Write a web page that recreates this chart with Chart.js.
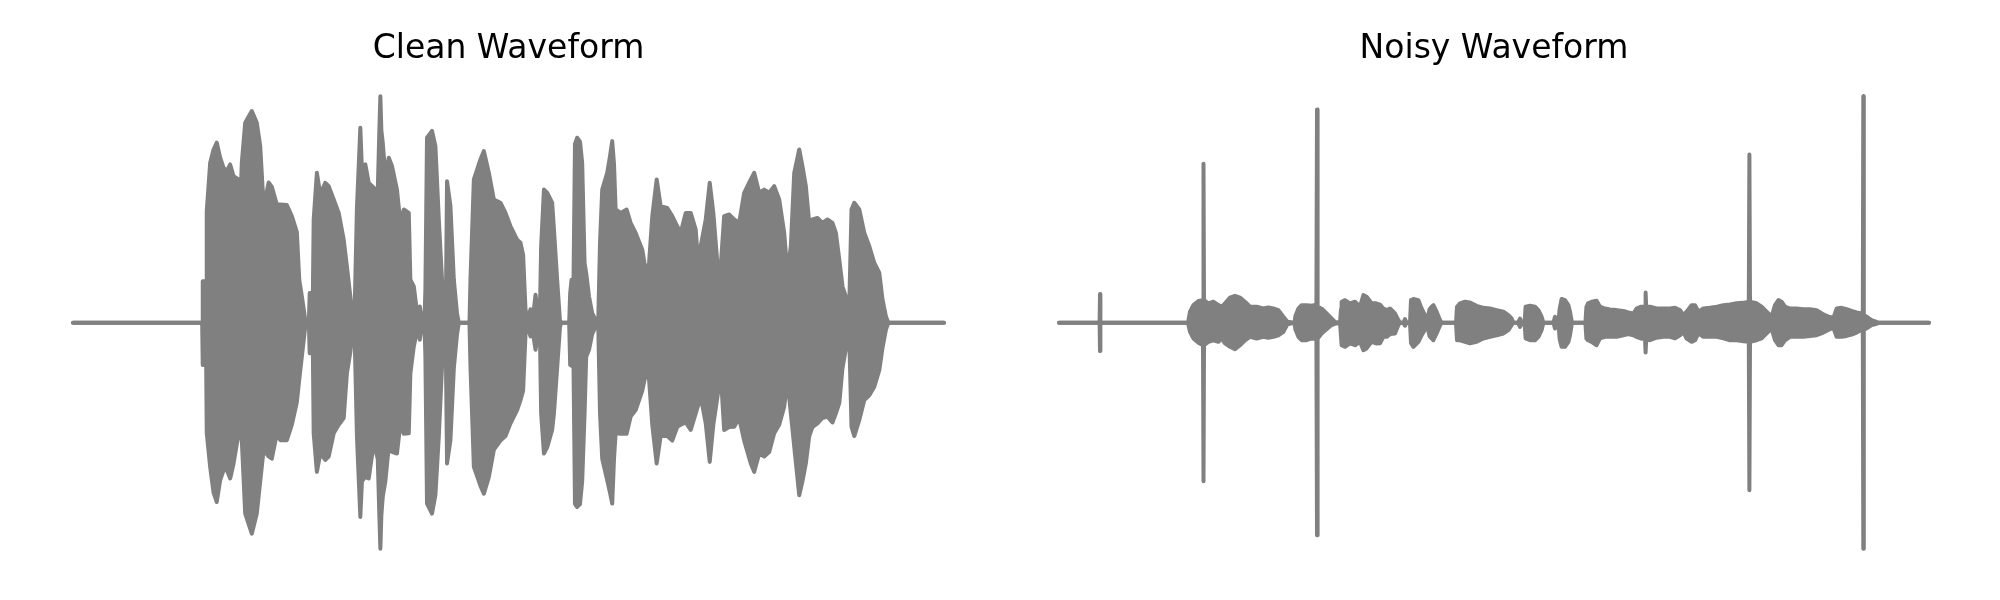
<!DOCTYPE html>
<html>
<head>
<meta charset="utf-8">
<script src="https://cdn.jsdelivr.net/npm/chart.js@4.4.1/dist/chart.umd.min.js"></script>
<style>
  body { margin: 0; background: #fff; }
  .row { display: flex; width: 2000px; height: 600px; }
  canvas { display: block; }
</style>
</head>
<body>
<div class="row">
  <canvas id="clean" width="1000" height="600"></canvas>
  <canvas id="noisy" width="1000" height="600"></canvas>
</div>
<script>
// envelope of each waveform: time (s), upper and lower amplitude
const cleanTime = [
  0, 0.645, 0.648, 0.665, 0.668, 0.685, 0.702, 0.718, 0.735, 0.752, 0.768, 0.785, 0.802, 0.827, 0.835,
  0.843, 0.860, 0.893, 0.918, 0.935, 0.952, 0.977, 0.993, 1.018, 1.035, 1.068, 1.093, 1.118, 1.130, 1.143,
  1.160, 1.165, 1.178, 1.182, 1.198, 1.202, 1.218, 1.235, 1.260, 1.277, 1.302, 1.327, 1.352, 1.368, 1.385,
  1.398, 1.405, 1.410, 1.418, 1.435, 1.443, 1.460, 1.477, 1.502, 1.522, 1.530, 1.535, 1.540, 1.547, 1.560,
  1.577, 1.593, 1.618, 1.635, 1.652, 1.677, 1.685, 1.702, 1.722, 1.732, 1.743, 1.755, 1.760, 1.768, 1.793,
  1.810, 1.827, 1.843, 1.852, 1.863, 1.868, 1.885, 1.902, 1.918, 1.927, 1.980, 1.985, 2.002, 2.035, 2.052,
  2.077, 2.102, 2.135, 2.160, 2.185, 2.218, 2.235, 2.248, 2.260, 2.268, 2.285, 2.298, 2.310, 2.322, 2.332,
  2.338, 2.352, 2.368, 2.393, 2.402, 2.418, 2.432, 2.438, 2.478, 2.483, 2.490, 2.498, 2.507, 2.518, 2.532,
  2.543, 2.555, 2.563, 2.577, 2.593, 2.610, 2.623, 2.632, 2.643, 2.668, 2.682, 2.693, 2.702, 2.710, 2.735,
  2.765, 2.785, 2.810, 2.843, 2.865, 2.877, 2.893, 2.915, 2.935, 2.968, 2.993, 3.018, 3.035, 3.060, 3.085,
  3.110, 3.127, 3.135, 3.160, 3.180, 3.198, 3.218, 3.235, 3.252, 3.277, 3.302, 3.327, 3.352, 3.385, 3.402,
  3.427, 3.452, 3.477, 3.502, 3.527, 3.552, 3.568, 3.585, 3.602, 3.627, 3.643, 3.660, 3.677, 3.693, 3.718,
  3.743, 3.768, 3.793, 3.810, 3.827, 3.843, 3.865, 3.877, 3.888, 3.902, 3.927, 3.952, 3.977, 4.002, 4.027,
  4.043, 4.060, 4.072, 4.350
];
const cleanUpper = [
  0, 0, 0.183, 0.183, 0.493, 0.706, 0.765, 0.795, 0.729, 0.684, 0.670, 0.699, 0.647, 0.633, 0.500,
  0.706, 0.883, 0.935, 0.883, 0.780, 0.515, 0.619, 0.600, 0.522, 0.522, 0.520, 0.471, 0.400, 0.190, 0.117,
  0.013, 0, 0, 0.131, 0.131, 0.456, 0.662, 0.566, 0.618, 0.603, 0.544, 0.485, 0.367, 0.249, 0.117,
  0.013, 0, 0.190, 0.507, 0.861, 0.677, 0.699, 0.618, 0.596, 0.580, 0.850, 1.000, 0.850, 0.795, 0.647,
  0.729, 0.692, 0.588, 0.441, 0.500, 0.485, 0.190, 0.161, 0.020, 0.072, 0.010, 0, 0.150, 0.817, 0.847,
  0.780, 0.456, 0.190, 0.130, 0.150, 0.625, 0.515, 0.190, 0.040, 0, 0, 0.190, 0.633, 0.721, 0.758,
  0.662, 0.544, 0.530, 0.485, 0.426, 0.367, 0.353, 0.300, 0.058, 0.010, 0.060, 0.030, 0.124, 0.040, 0.050,
  0.338, 0.588, 0.574, 0.530, 0.412, 0.190, 0.010, 0, 0, 0.131, 0.190, 0.043, 0.790, 0.817, 0.800,
  0.706, 0.264, 0.220, 0.117, 0.043, 0.013, 0, 0.353, 0.588, 0.662, 0.736, 0.802, 0.700, 0.500, 0.485,
  0.500, 0.441, 0.397, 0.323, 0.205, 0.264, 0.470, 0.633, 0.515, 0.507, 0.471, 0.426, 0.397, 0.485, 0.485,
  0.412, 0.205, 0.338, 0.456, 0.618, 0.485, 0.264, 0.249, 0.471, 0.478, 0.456, 0.441, 0.574, 0.633, 0.662,
  0.574, 0.588, 0.574, 0.603, 0.544, 0.397, 0.220, 0.338, 0.662, 0.765, 0.692, 0.603, 0.441, 0.456, 0.463,
  0.441, 0.456, 0.441, 0.397, 0.279, 0.161, 0.102, 0.080, 0.500, 0.530, 0.500, 0.397, 0.338, 0.264, 0.220,
  0.102, 0.028, 0, 0
];
const cleanLower = [
  0, 0, -0.186, -0.186, -0.488, -0.636, -0.750, -0.791, -0.695, -0.650, -0.650, -0.687, -0.621, -0.488, -0.500,
  -0.518, -0.842, -0.931, -0.842, -0.700, -0.560, -0.590, -0.600, -0.490, -0.518, -0.518, -0.450, -0.350, -0.250, -0.149,
  -0.016, 0, 0, -0.134, -0.134, -0.488, -0.658, -0.577, -0.605, -0.590, -0.488, -0.450, -0.420, -0.223, -0.130,
  -0.016, 0, -0.190, -0.500, -0.857, -0.700, -0.680, -0.687, -0.532, -0.600, -0.850, -0.997, -0.850, -0.768, -0.700,
  -0.547, -0.570, -0.577, -0.444, -0.490, -0.488, -0.223, -0.105, -0.020, -0.075, -0.010, 0, -0.150, -0.798, -0.842,
  -0.760, -0.500, -0.193, -0.160, -0.200, -0.621, -0.518, -0.200, -0.050, 0, 0, -0.190, -0.636, -0.720, -0.754,
  -0.680, -0.560, -0.520, -0.500, -0.444, -0.385, -0.341, -0.300, -0.050, -0.010, -0.060, -0.050, -0.119, -0.040, -0.050,
  -0.400, -0.577, -0.550, -0.473, -0.400, -0.200, -0.020, 0, 0, -0.186, -0.190, -0.050, -0.800, -0.813, -0.800,
  -0.700, -0.400, -0.150, -0.119, -0.050, -0.016, 0, -0.400, -0.600, -0.695, -0.750, -0.798, -0.600, -0.488, -0.490,
  -0.490, -0.414, -0.385, -0.300, -0.208, -0.250, -0.450, -0.621, -0.500, -0.500, -0.520, -0.459, -0.450, -0.440, -0.473,
  -0.400, -0.350, -0.326, -0.444, -0.614, -0.450, -0.330, -0.223, -0.473, -0.460, -0.459, -0.420, -0.520, -0.621, -0.658,
  -0.577, -0.590, -0.570, -0.488, -0.450, -0.370, -0.252, -0.400, -0.547, -0.761, -0.700, -0.621, -0.500, -0.460, -0.444,
  -0.420, -0.414, -0.440, -0.400, -0.355, -0.200, -0.090, -0.070, -0.459, -0.500, -0.429, -0.341, -0.320, -0.282, -0.208,
  -0.110, -0.030, 0, 0
];

const noisyTime = [
  0, 0.203, 0.205, 0.207, 0.645, 0.655, 0.672, 0.697, 0.720, 0.7225, 0.725, 0.747, 0.772, 0.797, 0.813,
  0.830, 0.855, 0.880, 0.905, 0.930, 0.955, 0.988, 1.022, 1.047, 1.072, 1.097, 1.122, 1.142, 1.178, 1.182,
  1.197, 1.213, 1.238, 1.263, 1.287, 1.290, 1.293, 1.313, 1.338, 1.363, 1.380, 1.405, 1.410, 1.413, 1.430,
  1.455, 1.480, 1.505, 1.522, 1.538, 1.563, 1.585, 1.605, 1.622, 1.638, 1.655, 1.680, 1.697, 1.705, 1.722,
  1.730, 1.738, 1.755, 1.760, 1.772, 1.797, 1.813, 1.830, 1.843, 1.853, 1.863, 1.872, 1.888, 1.905, 1.913,
  1.985, 1.990, 2.005, 2.030, 2.055, 2.088, 2.122, 2.155, 2.188, 2.222, 2.247, 2.263, 2.272, 2.295, 2.305,
  2.315, 2.328, 2.333, 2.355, 2.380, 2.397, 2.413, 2.422, 2.472, 2.480, 2.488, 2.497, 2.503, 2.513, 2.530,
  2.547, 2.555, 2.565, 2.632, 2.637, 2.645, 2.663, 2.688, 2.705, 2.730, 2.755, 2.788, 2.822, 2.847, 2.872,
  2.888, 2.908, 2.930, 2.933, 2.936, 2.955, 2.988, 3.022, 3.055, 3.080, 3.105, 3.122, 3.138, 3.163, 3.180,
  3.197, 3.222, 3.255, 3.290, 3.322, 3.355, 3.388, 3.422, 3.449, 3.452, 3.455, 3.488, 3.513, 3.538, 3.563,
  3.580, 3.597, 3.613, 3.630, 3.655, 3.688, 3.722, 3.755, 3.788, 3.822, 3.847, 3.872, 3.888, 3.913, 3.938,
  3.963, 3.988, 4.013, 4.019, 4.0215, 4.024, 4.038, 4.063, 4.088, 4.100, 4.350
];
const noisyUpper = [
  0, 0, 0.127, 0, 0, 0.049, 0.078, 0.096, 0.100, 0.702, 0.100, 0.086, 0.093, 0.078, 0.071,
  0.086, 0.111, 0.119, 0.111, 0.093, 0.071, 0.071, 0.063, 0.068, 0.063, 0.056, 0.027, 0.005, 0, 0.030,
  0.063, 0.078, 0.078, 0.075, 0.080, 0.942, 0.070, 0.063, 0.041, 0.019, 0.004, 0, 0.060, 0.093, 0.100,
  0.086, 0.093, 0.071, 0.122, 0.115, 0.086, 0.086, 0.080, 0.063, 0.056, 0.063, 0.041, 0.012, 0, 0,
  0.016, 0, 0, 0.100, 0.105, 0.100, 0.063, 0.034, 0.020, 0.060, 0.071, 0.078, 0.049, 0.012, 0,
  0, 0.071, 0.086, 0.093, 0.090, 0.075, 0.066, 0.063, 0.056, 0.049, 0.034, 0.019, 0, 0, 0.019,
  0, 0, 0.071, 0.075, 0.071, 0.056, 0.027, 0, 0, 0.027, 0, 0, 0.060, 0.105, 0.100,
  0.078, 0.049, 0, 0, 0.070, 0.086, 0.093, 0.097, 0.071, 0.063, 0.059, 0.056, 0.052, 0.046, 0.041,
  0.063, 0.071, 0.071, 0.134, 0.071, 0.071, 0.063, 0.063, 0.063, 0.066, 0.056, 0.034, 0.049, 0.078, 0.078,
  0.049, 0.063, 0.066, 0.071, 0.078, 0.081, 0.086, 0.088, 0.093, 0.743, 0.093, 0.086, 0.071, 0.049, 0.027,
  0.078, 0.100, 0.093, 0.071, 0.063, 0.063, 0.060, 0.060, 0.056, 0.037, 0.027, 0.022, 0.063, 0.066, 0.060,
  0.053, 0.046, 0.041, 0.040, 1.000, 0.035, 0.027, 0.012, 0.004, 0, 0
];
const noisyLower = [
  0, 0, -0.125, 0, 0, -0.040, -0.069, -0.088, -0.099, -0.699, -0.099, -0.084, -0.077, -0.084, -0.069,
  -0.091, -0.106, -0.117, -0.099, -0.077, -0.062, -0.069, -0.062, -0.066, -0.062, -0.055, -0.040, -0.007, 0, -0.030,
  -0.062, -0.077, -0.077, -0.069, -0.070, -0.938, -0.070, -0.047, -0.028, -0.010, -0.004, 0, -0.060, -0.099, -0.106,
  -0.091, -0.099, -0.084, -0.121, -0.113, -0.084, -0.091, -0.090, -0.062, -0.062, -0.050, -0.047, -0.010, 0, 0,
  -0.013, 0, 0, -0.090, -0.106, -0.084, -0.055, -0.030, -0.020, -0.060, -0.069, -0.077, -0.047, -0.012, 0,
  0, -0.077, -0.077, -0.084, -0.091, -0.084, -0.069, -0.062, -0.055, -0.047, -0.032, -0.010, 0, 0, -0.018,
  0, 0, -0.069, -0.077, -0.077, -0.062, -0.032, 0, 0, -0.025, 0, 0, -0.070, -0.106, -0.106,
  -0.084, -0.055, 0, 0, -0.070, -0.077, -0.084, -0.099, -0.069, -0.062, -0.062, -0.062, -0.055, -0.050, -0.055,
  -0.062, -0.069, -0.072, -0.131, -0.072, -0.077, -0.066, -0.062, -0.062, -0.069, -0.055, -0.040, -0.070, -0.084, -0.077,
  -0.047, -0.062, -0.062, -0.062, -0.069, -0.077, -0.077, -0.081, -0.084, -0.739, -0.084, -0.077, -0.069, -0.047, -0.025,
  -0.077, -0.099, -0.099, -0.077, -0.062, -0.062, -0.062, -0.058, -0.055, -0.043, -0.032, -0.022, -0.062, -0.062, -0.058,
  -0.052, -0.043, -0.032, -0.030, -0.997, -0.030, -0.025, -0.010, -0.004, 0, 0
];

const lineGrey = '#808080';

function toPoints(times, values) {
  return times.map((t, i) => ({ x: t, y: values[i] }));
}

function waveChart(id, title, times, upper, lower, pad) {
  return new Chart(document.getElementById(id), {
    type: 'line',
    data: {
      datasets: [
        {
          data: toPoints(times, upper),
          borderColor: lineGrey,
          backgroundColor: lineGrey,
          borderWidth: 4,
          fill: '+1',
          pointRadius: 0,
          tension: 0,
          clip: false,
          borderJoinStyle: 'round',
          borderCapStyle: 'round'
        },
        {
          data: toPoints(times, lower),
          borderColor: lineGrey,
          backgroundColor: lineGrey,
          borderWidth: 4,
          fill: false,
          pointRadius: 0,
          tension: 0,
          clip: false,
          borderJoinStyle: 'round',
          borderCapStyle: 'round'
        }
      ]
    },
    options: {
      responsive: false,
      animation: false,
      devicePixelRatio: 1,
      layout: { padding: pad },
      scales: {
        x: { type: 'linear', min: 0, max: 4.35, display: false },
        y: { min: -1.1, max: 1.1, display: false }
      },
      plugins: {
        legend: { display: false },
        tooltip: { enabled: false },
        title: {
          display: true,
          text: title,
          color: '#000',
          font: { family: 'DejaVu Sans', size: 33, weight: 'normal' },
          padding: { top: 30, bottom: 4 }
        }
      }
    }
  });
}

waveChart('clean', 'Clean Waveform', cleanTime, cleanUpper, cleanLower, { left: 73, right: 56, top: 0, bottom: 28 });
waveChart('noisy', 'Noisy Waveform', noisyTime, noisyUpper, noisyLower, { left: 59, right: 71, top: 0, bottom: 28 });
</script>
</body>
</html>
